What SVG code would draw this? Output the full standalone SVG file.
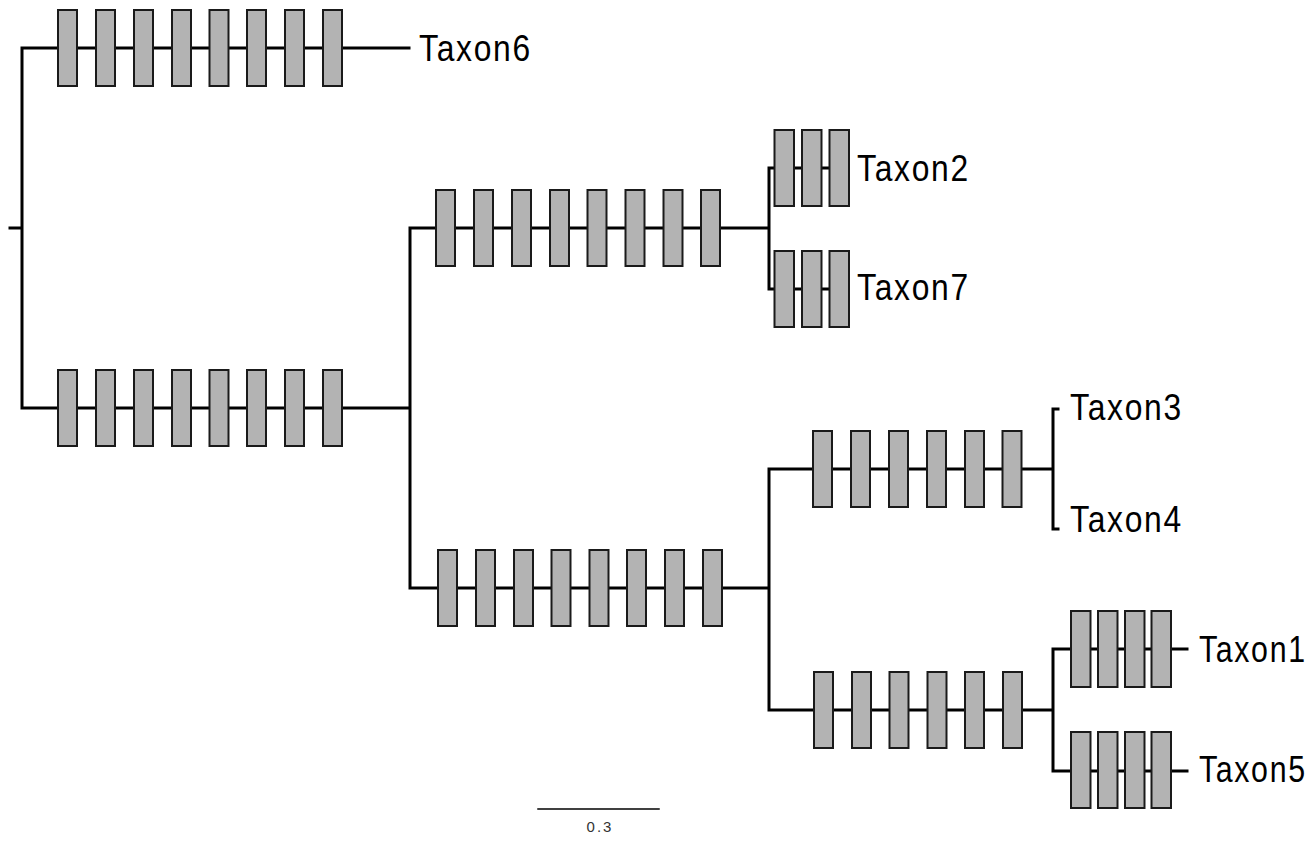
<svg xmlns="http://www.w3.org/2000/svg" width="1312" height="841" viewBox="0 0 1312 841">
<style>
.e{fill:none;stroke:#000;stroke-width:3;stroke-linecap:square}
.b{fill:#b3b3b3;stroke:#1a1a1a;stroke-width:2}
.t{font-family:"Liberation Sans",Arial,sans-serif;font-size:37px;letter-spacing:2px;fill:#000}
.s{font-family:"Liberation Sans",Arial,sans-serif;font-size:15px;letter-spacing:2px;fill:#333}
</style>
<defs>
<rect id="bx" class="b" x="0" y="0" width="19" height="76"/>
<rect id="bs" class="b" x="0" y="0" width="19.5" height="76"/>
</defs>
<rect width="1312" height="841" fill="#fff"/>
<g id="connectors">
<path class="e" d="M10 228H22M22 48V408M22 48H409M22 408H410M410 228V588M410 228H769M410 588H769M769 168V289M769 168H848M769 289H848M769 469V710M769 469H1053M769 710H1053M1053 409V529M1053 409H1058M1053 529H1058M1053 649V771M1053 649H1187M1053 771H1187"/>
<path class="e" d="M538 809H659" style="stroke-width:1.5"/>
</g>
<g id="branch-taxon6">
<use href="#bx" x="58" y="10"/><use href="#bx" x="96" y="10"/><use href="#bx" x="134" y="10"/><use href="#bx" x="172" y="10"/><use href="#bx" x="209.5" y="10"/><use href="#bx" x="247" y="10"/><use href="#bx" x="285" y="10"/><use href="#bx" x="323" y="10"/>
</g>
<g id="branch-inner1">
<use href="#bx" x="58" y="370"/><use href="#bx" x="96" y="370"/><use href="#bx" x="134" y="370"/><use href="#bx" x="172" y="370"/><use href="#bx" x="209.5" y="370"/><use href="#bx" x="247" y="370"/><use href="#bx" x="285" y="370"/><use href="#bx" x="323" y="370"/>
</g>
<g id="branch-inner2">
<use href="#bx" x="436" y="190"/><use href="#bx" x="474" y="190"/><use href="#bx" x="512" y="190"/><use href="#bx" x="550" y="190"/><use href="#bx" x="587.5" y="190"/><use href="#bx" x="625.5" y="190"/><use href="#bx" x="663.5" y="190"/><use href="#bx" x="701" y="190"/>
</g>
<g id="branch-inner3">
<use href="#bx" x="438" y="550"/><use href="#bx" x="476" y="550"/><use href="#bx" x="514" y="550"/><use href="#bx" x="551.5" y="550"/><use href="#bx" x="589.5" y="550"/><use href="#bx" x="627" y="550"/><use href="#bx" x="665" y="550"/><use href="#bx" x="703" y="550"/>
</g>
<g id="branch-inner4">
<use href="#bx" x="813" y="431"/><use href="#bx" x="851" y="431"/><use href="#bx" x="889" y="431"/><use href="#bx" x="927" y="431"/><use href="#bx" x="965" y="431"/><use href="#bx" x="1002.5" y="431"/>
</g>
<g id="branch-inner5">
<use href="#bx" x="814" y="672"/><use href="#bx" x="852" y="672"/><use href="#bx" x="889.5" y="672"/><use href="#bx" x="927.5" y="672"/><use href="#bx" x="965" y="672"/><use href="#bx" x="1003" y="672"/>
</g>
<g id="node-taxon6"><text class="t" transform="translate(419 61) scale(0.86 1)">Taxon6</text></g>
<g id="node-taxon2">
<use href="#bs" x="774.5" y="130"/><use href="#bs" x="802" y="130"/><use href="#bs" x="829.5" y="130"/>
<text class="t" transform="translate(857 181) scale(0.86 1)">Taxon2</text></g>
<g id="node-taxon7">
<use href="#bs" x="774.5" y="251"/><use href="#bs" x="802" y="251"/><use href="#bs" x="829.5" y="251"/>
<text class="t" transform="translate(857 300) scale(0.86 1)">Taxon7</text></g>
<g id="node-taxon3"><text class="t" transform="translate(1070 420) scale(0.86 1)">Taxon3</text></g>
<g id="node-taxon4"><text class="t" transform="translate(1070 532) scale(0.86 1)">Taxon4</text></g>
<g id="node-taxon1">
<use href="#bs" x="1071" y="611"/><use href="#bs" x="1098" y="611"/><use href="#bs" x="1125" y="611"/><use href="#bs" x="1151.5" y="611"/>
<text class="t" transform="translate(1199 662) scale(0.82 1)">Taxon1</text></g>
<g id="node-taxon5">
<use href="#bs" x="1071" y="732"/><use href="#bs" x="1098" y="732"/><use href="#bs" x="1125" y="732"/><use href="#bs" x="1151.5" y="732"/>
<text class="t" transform="translate(1199 782) scale(0.82 1)">Taxon5</text></g>
<g id="scale"><text class="s" x="600" y="832" text-anchor="middle">0.3</text></g>
</svg>
